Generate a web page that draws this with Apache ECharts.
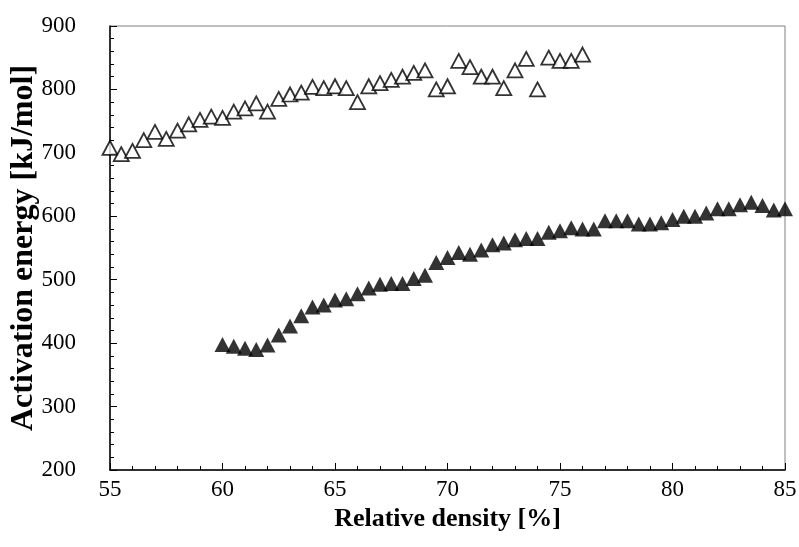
<!DOCTYPE html>
<html>
<head>
<meta charset="utf-8">
<script src="https://cdn.jsdelivr.net/npm/echarts@6/dist/echarts.min.js"></script>
<style>
  html, body { margin: 0; padding: 0; background: #fff; }
  #chart { width: 799px; height: 547px; }
</style>
</head>
<body>
<div id="chart"></div>
<script>
// open triangles: 55 .. 76 step 0.5
const openX = [55, 55.5, 56, 56.5, 57, 57.5, 58, 58.5, 59, 59.5, 60, 60.5, 61, 61.5, 62, 62.5, 63, 63.5, 64, 64.5, 65, 65.5,
  66, 66.5, 67, 67.5, 68, 68.5, 69, 69.5, 70, 70.5, 71, 71.5, 72, 72.5, 73, 73.5, 74, 74.5, 75, 75.5, 76];
const openY = [708, 698, 703, 720, 733, 722, 735, 745, 752, 757, 755, 765, 770, 778, 765, 785, 792, 795, 804, 802, 805, 802,
  780, 805, 810, 815, 820, 826, 830, 800, 805, 845, 835, 820, 820, 802, 830, 848, 800, 850, 845, 845, 855];

// filled triangles: 60 .. 85 step 0.5
const filledX = [60, 60.5, 61, 61.5, 62, 62.5, 63, 63.5, 64, 64.5, 65, 65.5, 66, 66.5, 67, 67.5, 68, 68.5, 69, 69.5,
  70, 70.5, 71, 71.5, 72, 72.5, 73, 73.5, 74, 74.5, 75, 75.5, 76, 76.5, 77, 77.5, 78, 78.5, 79, 79.5,
  80, 80.5, 81, 81.5, 82, 82.5, 83, 83.5, 84, 84.5, 85];
const filledY = [398, 395, 392, 390, 397, 413, 427, 443, 457, 460, 468, 470, 478, 487, 493, 494, 494, 502, 507, 527,
  535, 543, 540, 547, 555, 558, 563, 565, 565, 575, 577, 582, 580, 580, 593, 593, 593, 588, 588, 590,
  595, 600, 600, 605, 612, 612, 618, 622, 617, 610, 612];

const toPairs = (xs, ys) => xs.map((x, i) => [x, ys[i]]);

const chart = echarts.init(document.getElementById('chart'));
const font = '"Liberation Serif", "Times New Roman", serif';

chart.setOption({
  animation: false,
  grid: {
    left: 110, right: 14, top: 26, bottom: 77,
    outerBoundsMode: 'none',
    show: true, borderColor: '#808080', borderWidth: 1
  },
  xAxis: {
    type: 'value', min: 55, max: 85, interval: 5,
    name: 'Relative density [%]', nameLocation: 'middle', nameGap: 35,
    nameTextStyle: { fontFamily: font, fontSize: 26, fontWeight: 'bold', color: '#000' },
    axisLine: { lineStyle: { color: '#000', width: 1.5 } },
    axisTick: { inside: true, length: 7, lineStyle: { color: '#000' } },
    minorTick: { show: true, splitNumber: 5, length: 4, lineStyle: { color: '#000' } },
    axisLabel: { fontFamily: font, fontSize: 23, color: '#000', margin: 8 },
    splitLine: { show: false }
  },
  yAxis: {
    type: 'value', min: 200, max: 900, interval: 100,
    name: 'Activation energy [kJ/mol]', nameLocation: 'middle', nameGap: 70,
    nameMoveOverlap: false,
    nameTextStyle: { fontFamily: font, fontSize: 32, fontWeight: 'bold', color: '#000' },
    axisLine: { show: true, lineStyle: { color: '#000', width: 1.5 } },
    axisTick: { show: true, inside: true, length: 7, lineStyle: { color: '#000' } },
    minorTick: { show: true, splitNumber: 5, length: 4, lineStyle: { color: '#000' } },
    axisLabel: { fontFamily: font, fontSize: 23, color: '#000', margin: 34 },
    splitLine: { show: false }
  },
  series: [
    {
      type: 'scatter', symbol: 'triangle', symbolSize: [15, 14],
      data: toPairs(openX, openY),
      itemStyle: { color: '#fff', borderColor: '#000', borderWidth: 1.8 }
    },
    {
      type: 'scatter', symbol: 'triangle', symbolSize: [16, 15],
      data: toPairs(filledX, filledY),
      itemStyle: { color: '#000' }
    }
  ]
});
</script>
</body>
</html>
